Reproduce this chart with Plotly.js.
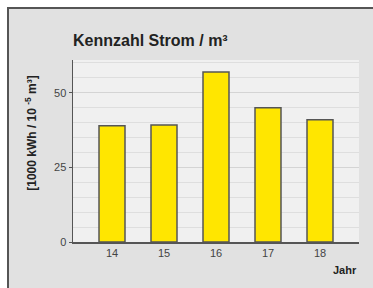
<!DOCTYPE html>
<html><head><meta charset="utf-8">
<script src="https://cdn.plot.ly/plotly-3.0.1.min.js"></script>
<style>
html,body{margin:0;padding:0;background:#fff;width:373px;height:288px;overflow:hidden}
#frame{position:absolute;left:7px;top:7px;width:366px;height:281px;border-top:2px solid #555;border-left:2px solid #555;box-sizing:border-box}
#chart{width:364px;height:279px}
</style></head>
<body><div id="frame"><div id="chart"></div></div>
<script>
const categories = ["14", "15", "16", "17", "18"];
const values = [39, 39.2, 57, 45, 41];
const yTicks = [0, 25, 50];
const chartTitle = "Kennzahl Strom / m³";
const yTitle = "[1000 kWh / 10 <sup>-5</sup> m³]";
const xTitle = "Jahr";

const trace = {
  type: "bar",
  x: categories,
  y: values,
  width: 0.5,
  marker: {color: "#ffe600", line: {color: "#555", width: 1.5}},
  hoverinfo: "none"
};
const layout = {
  width: 364, height: 279,
  margin: {l: 64, r: 14, t: 51, b: 46},
  paper_bgcolor: "#e1e1e1",
  plot_bgcolor: "#f0f0f0",
  showlegend: false,
  font: {family: "Liberation Sans, Arial, sans-serif", color: "#444"},
  title: {text: "<b>" + chartTitle + "</b>", x: 64/364, xanchor: "left", y: 1 - 31/279, yanchor: "middle",
          font: {size: 16, color: "#222"}},
  xaxis: {type: "category", range: [-0.75, 4.75], showline: true, linecolor: "#555", linewidth: 1.5,
          ticks: "", tickfont: {size: 11, color: "#444"}, showgrid: false, fixedrange: true},
  yaxis: {range: [0, 61], tickvals: yTicks, showline: true, linecolor: "#555", linewidth: 1.5,
          ticks: "outside", ticklen: 3, tickcolor: "#555", tickfont: {size: 11, color: "#444"},
          showgrid: true, gridcolor: "#d4d4d4", gridwidth: 1, zeroline: false,
          minor: {dtick: 5, tick0: 0, showgrid: true, gridcolor: "#dedede", gridwidth: 1, ticks: ""},
          fixedrange: true},
  bargap: 0.5,
  annotations: [
    {text: "<b>" + yTitle + "</b>", textangle: -90, xref: "paper", yref: "paper",
     x: -0.147, y: 0.6, xanchor: "center", yanchor: "middle", showarrow: false,
     font: {size: 12, color: "#222"}},
    {text: "<b>" + xTitle + "</b>", xref: "paper", yref: "paper",
     x: 1.0, y: -0.155, xanchor: "right", yanchor: "middle", showarrow: false,
     font: {size: 11, color: "#222"}}
  ]
};
Plotly.newPlot("chart", [trace], layout, {displayModeBar: false, staticPlot: true});
</script></body></html>
